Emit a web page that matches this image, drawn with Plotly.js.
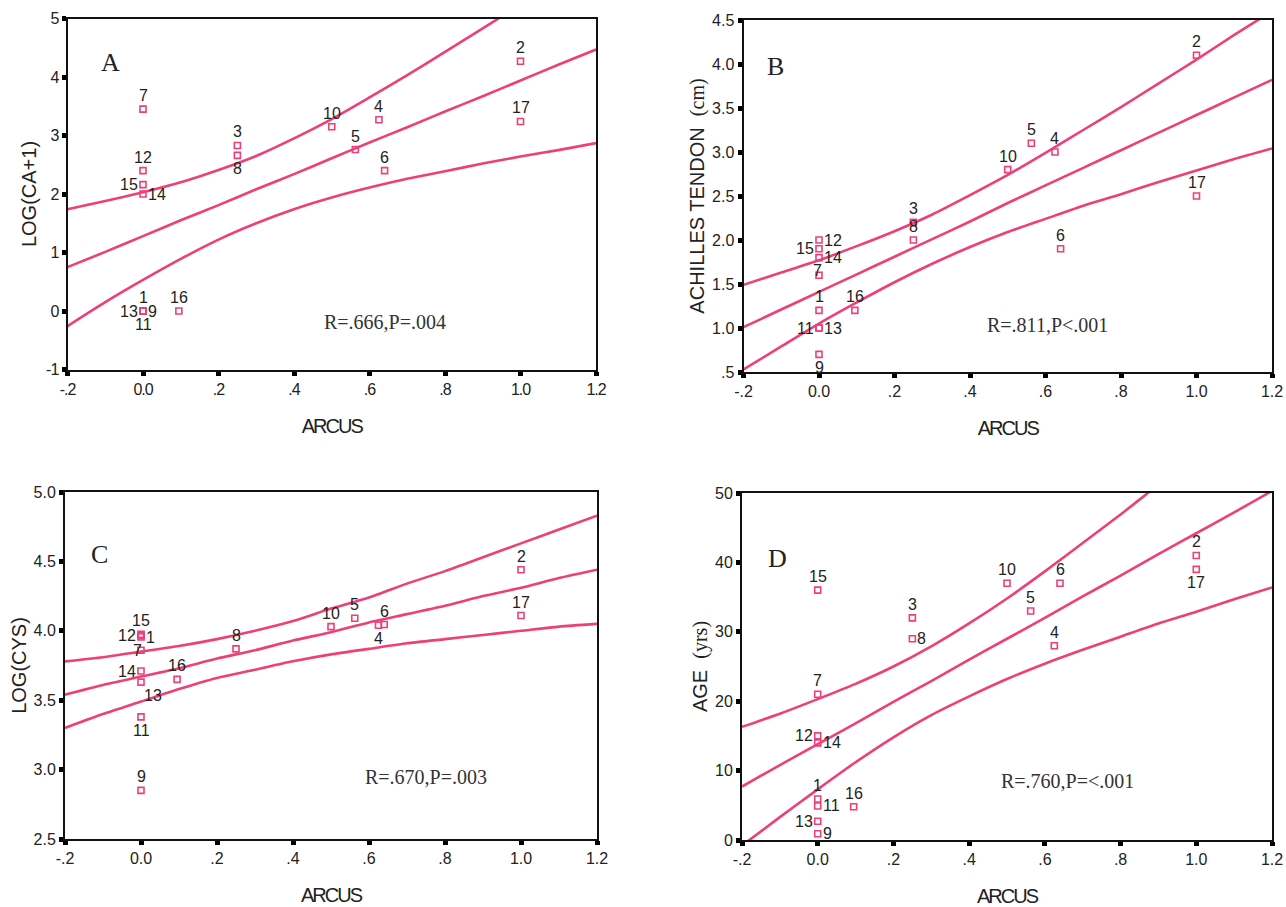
<!DOCTYPE html>
<html><head><meta charset="utf-8">
<script src="https://cdn.plot.ly/plotly-3.0.1.min.js"></script>
<style>
html,body{margin:0;padding:0;background:#fff}
#chart{width:1286px;height:907px}
#chart [class*="xtick"] text, #chart [class*="ytick"] text {letter-spacing:-1px}
#chart text[class^="x"][class$="title"] {letter-spacing:-2px}
</style>
</head><body><div id="chart"></div>
<script>
// ---------- data ----------
const patientIds = ['1','2','3','4','5','6','7','8','9','10','11','12','13','14','15','16','17'];
const arcus    = [0, 1.0, 0.25, 0.625, 0.5625, 0.64, 0, 0.25, 0, 0.5, 0, 0, 0, 0, 0, 0.095, 1.0];
const logCA    = [0, 4.27, 2.83, 3.27, 2.76, 2.40, 3.45, 2.66, 0, 3.15, 0, 2.40, 0, 2.0, 2.16, 0, 3.24];
const achilles = [1.2, 4.1, 2.2, 3.0, 3.1, 1.9, 1.6, 2.0, 0.7, 2.8, 1.0, 2.0, 1.0, 1.8, 1.9, 1.2, 2.5];
const logCYS   = [3.955, 4.44, null, 4.04, 4.09, 4.045, 3.86, 3.87, 2.85, 4.03, 3.38, 3.965, 3.63, 3.71, 3.975, 3.65, 4.11];
const age      = [5.9, 41, 32, 28, 33, 37, 21, 29, 0.9, 37, 4.9, 15, 2.7, 14, 36, 4.8, 39];

// regression line and its 95% band, read at these ARCUS values
const curveX = [-0.2, -0.1, 0, 0.1, 0.2, 0.3, 0.4, 0.5, 0.6, 0.7, 0.8, 0.9, 1.0, 1.1, 1.2];
const fitA   = [0.75, 1.01, 1.28, 1.55, 1.81, 2.08, 2.34, 2.61, 2.88, 3.14, 3.41, 3.67, 3.94, 4.21, 4.47];
const upperA = [1.74, 1.88, 2.03, 2.20, 2.41, 2.65, 2.95, 3.28, 3.65, 4.03, 4.43, 4.83, 5.24, 5.66, 6.08];
const lowerA = [-0.26, 0.15, 0.53, 0.89, 1.22, 1.50, 1.74, 1.94, 2.11, 2.26, 2.39, 2.52, 2.64, 2.75, 2.87];
const fitB   = [1.01, 1.21, 1.41, 1.61, 1.81, 2.01, 2.21, 2.42, 2.62, 2.82, 3.02, 3.22, 3.42, 3.62, 3.82];
const upperB = [1.49, 1.63, 1.77, 1.93, 2.10, 2.29, 2.51, 2.74, 2.99, 3.25, 3.51, 3.78, 4.05, 4.33, 4.60];
const lowerB = [0.53, 0.79, 1.05, 1.29, 1.52, 1.73, 1.92, 2.09, 2.24, 2.39, 2.52, 2.66, 2.79, 2.92, 3.04];
const fitC   = [3.54, 3.61, 3.67, 3.73, 3.80, 3.86, 3.93, 3.99, 4.06, 4.12, 4.18, 4.25, 4.31, 4.38, 4.44];
const upperC = [3.78, 3.81, 3.85, 3.89, 3.94, 4.00, 4.07, 4.16, 4.24, 4.34, 4.43, 4.53, 4.63, 4.73, 4.83];
const lowerC = [3.30, 3.40, 3.49, 3.58, 3.66, 3.72, 3.78, 3.83, 3.87, 3.91, 3.94, 3.97, 4.00, 4.03, 4.05];
const fitD   = [7.7, 10.8, 13.8, 16.8, 19.9, 22.9, 26.0, 29.0, 32.0, 35.1, 38.1, 41.2, 44.2, 47.2, 50.3];
const upperD = [16.3, 18.2, 20.3, 22.5, 25.0, 27.9, 31.2, 34.8, 38.7, 42.8, 46.9, 51.2, 55.5, 59.8, 64.2];
const lowerD = [-0.8, 3.3, 7.3, 11.2, 14.8, 18.0, 20.7, 23.2, 25.4, 27.4, 29.3, 31.2, 32.9, 34.7, 36.4];

// tick labels
const xTickVals = [-0.2, 0, 0.2, 0.4, 0.6, 0.8, 1.0, 1.2];
const xTickText = ['-.2', '0.0', '.2', '.4', '.6', '.8', '1.0', '1.2'];
const yTickValsA = [-1, 0, 1, 2, 3, 4, 5];
const yTickTextA = ['-1', '0', '1', '2', '3', '4', '5'];
const yTickValsB = [0.5, 1, 1.5, 2, 2.5, 3, 3.5, 4, 4.5];
const yTickTextB = ['.5', '1.0', '1.5', '2.0', '2.5', '3.0', '3.5', '4.0', '4.5'];
const yTickValsC = [2.5, 3, 3.5, 4, 4.5, 5];
const yTickTextC = ['2.5', '3.0', '3.5', '4.0', '4.5', '5.0'];
const yTickValsD = [0, 10, 20, 30, 40, 50];
const yTickTextD = ['0', '10', '20', '30', '40', '50'];

// texts
const panelLetters = ['A', 'B', 'C', 'D'];
const statTexts = ['R=.666,P=.004', 'R=.811,P<.001', 'R=.670,P=.003', 'R=.760,P=<.001'];
const xTitle = 'ARCUS';
const yTitles = ['LOG(CA+1)', 'ACHILLES TENDON\u00a0\u00a0<span style="font-family:\'Liberation Serif\',serif">(cm)</span>',
                 'LOG(CYS)', 'AGE\u00a0\u00a0<span style="font-family:\'Liberation Serif\',serif">(yrs)</span>'];

// ---------- style ----------
const PINK = '#ee3f78';
const SANS = "'Liberation Sans', Arial, sans-serif";
const SERIF = "'Liberation Serif', 'Times New Roman', serif";
// label placement codes per point (t=top, b=bottom, l=left, r=right, br, o=overlap, ol)
const placeA = ['t','t','t','t','t','t','t','b','r','t','b','t','l','r','l','t','t'];
const placeB = ['t','t','t','t','t','t','o','t','b','t','l','r','r','r','l','t','t'];
const placeC = ['r','t','t','b','t','t','ol','t','t','t','b','l','br','l','t','t','t'];
const placeD = ['t','t','t','t','t','t','t','r','r','t','r','l','l','r','t','t','b'];

const panels = [
  {ys: logCA,    fit: fitA, up: upperA, lo: lowerA, yr: [-1, 5],   tv: yTickValsA, tt: yTickTextA, place: placeA,
   dx: [67.5, 596], dy: [18.5, 369.5], letter: [-0.087, 4.25], stat: [0.641, -0.19]},
  {ys: achilles, fit: fitB, up: upperB, lo: lowerB, yr: [0.5, 4.5], tv: yTickValsB, tt: yTickTextB, place: placeB,
   dx: [743.5, 1272], dy: [20, 372], letter: [-0.116, 3.97], stat: [0.606, 1.03]},
  {ys: logCYS,   fit: fitC, up: upperC, lo: lowerC, yr: [2.5, 5],   tv: yTickValsC, tt: yTickTextC, place: placeC,
   dx: [65, 597], dy: [492, 839], letter: [-0.11, 4.55], stat: [0.75, 2.95]},
  {ys: age,      fit: fitD, up: upperD, lo: lowerD, yr: [0, 50],    tv: yTickValsD, tt: yTickTextD, place: placeD,
   dx: [742, 1272], dy: [493, 840], letter: [-0.107, 40.5], stat: [0.661, 8.5]}
];

const W = 1286, H = 907;
const traces = [];
const annotations = [];
const layout = {
  width: W, height: H, autosize: false,
  margin: {l: 0, r: 0, t: 0, b: 0},
  paper_bgcolor: '#ffffff', plot_bgcolor: '#ffffff',
  showlegend: false,
  annotations: annotations
};

panels.forEach((p, i) => {
  const n = i === 0 ? '' : String(i + 1);
  const xa = 'x' + n, ya = 'y' + n;
  [p.up, p.fit, p.lo].forEach(arr => {
    traces.push({x: curveX, y: arr, xaxis: xa, yaxis: ya, mode: 'lines', type: 'scatter',
      line: {color: PINK, width: 2.6, shape: 'spline', smoothing: 0.6}, hoverinfo: 'skip'});
  });
  traces.push({x: arcus, y: p.ys, xaxis: xa, yaxis: ya, mode: 'markers', type: 'scatter',
    marker: {symbol: 'square-open', size: 6, color: PINK, line: {color: PINK, width: 1.6}}, cliponaxis: false});

  const axisCommon = {
    showline: true, linecolor: '#111', linewidth: 2, mirror: true,
    showgrid: false, zeroline: false,
    ticks: 'outside', ticklen: 4, tickwidth: 5, tickcolor: '#000',
    tickfont: {family: SANS, size: 16, color: '#222'}
  };
  layout['xaxis' + n] = Object.assign({}, axisCommon, {
    domain: [p.dx[0] / W, p.dx[1] / W], anchor: ya, range: [-0.2, 1.2],
    tickmode: 'array', tickvals: xTickVals, ticktext: xTickText, ticklabelstandoff: 0,
    title: {text: xTitle, font: {family: SANS, size: 20, color: '#222'}, standoff: 22}
  });
  layout['yaxis' + n] = Object.assign({}, axisCommon, {
    domain: [1 - p.dy[1] / H, 1 - p.dy[0] / H], anchor: xa, range: p.yr,
    tickmode: 'array', tickvals: p.tv, ticktext: p.tt, ticklabelstandoff: 0,
    title: {text: yTitles[i], font: {family: SANS, size: 20, color: '#222'}, standoff: 2}
  });

  // point number labels
  arcus.forEach((xv, k) => {
    const yv = p.ys[k];
    if (yv === null || yv === undefined) return;
    const code = p.place[k];
    const a = {x: xv, y: yv, xref: xa, yref: ya, text: patientIds[k], showarrow: false,
      font: {family: SANS, size: 16, color: '#222'}, xanchor: 'center', yanchor: 'middle', xshift: 0, yshift: 0};
    if (code === 't') { a.yanchor = 'bottom'; a.yshift = 3; }
    else if (code === 'b') { a.yanchor = 'top'; a.yshift = -3; }
    else if (code === 'l') { a.xanchor = 'right'; a.xshift = -3; }
    else if (code === 'r') { a.xanchor = 'left'; a.xshift = 3; }
    else if (code === 'br') { a.xanchor = 'left'; a.yanchor = 'top'; a.xshift = 1; a.yshift = -3; }
    else if (code === 'o') { a.xshift = -2; a.yshift = 5; }
    else if (code === 'ol') { a.xshift = -4; a.yshift = 0; }
    annotations.push(a);
  });

  annotations.push({x: p.letter[0], y: p.letter[1], xref: xa, yref: ya, text: panelLetters[i], showarrow: false,
    font: {family: SERIF, size: 26, color: '#222'}, xanchor: 'center', yanchor: 'middle'});
  annotations.push({x: p.stat[0], y: p.stat[1], xref: xa, yref: ya, text: statTexts[i], showarrow: false,
    font: {family: SERIF, size: 20, color: '#333'}, xanchor: 'center', yanchor: 'middle'});
});

Plotly.newPlot('chart', traces, layout, {staticPlot: true, displayModeBar: false});
</script></body></html>
